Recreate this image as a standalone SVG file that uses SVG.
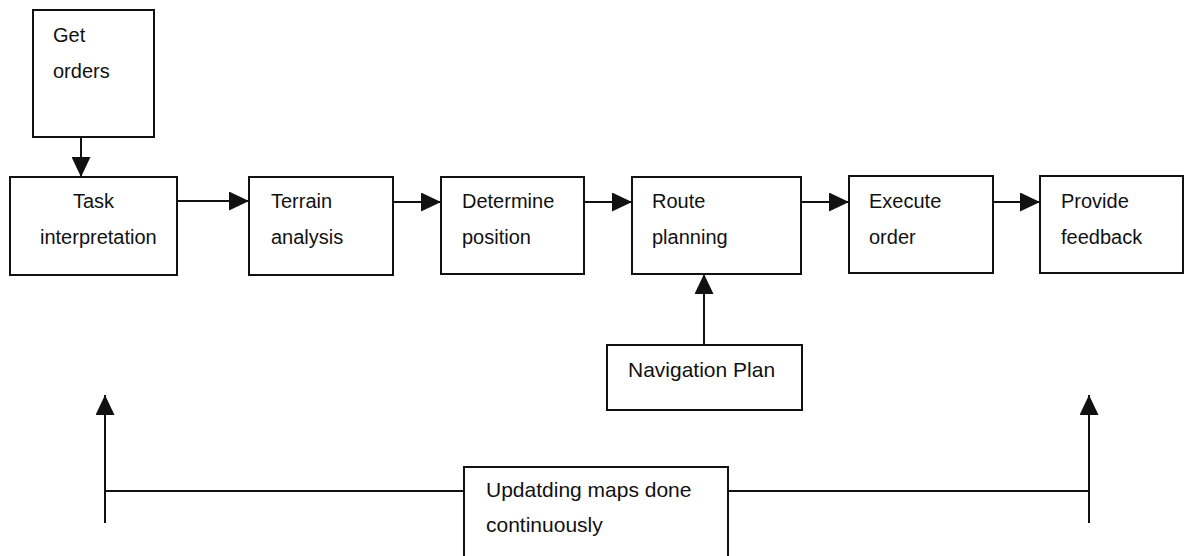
<svg xmlns="http://www.w3.org/2000/svg" width="1186" height="556" viewBox="0 0 1186 556">
  <style>
    .box { fill: #fff; stroke: #111; stroke-width: 2; }
    .lbl { font-family: "Liberation Sans", Arial, sans-serif; font-size: 20px; fill: #111; }
    .big { font-size: 21px; }
    .wire { fill: none; stroke: #111; stroke-width: 2; }
    .flow { marker-end: url(#head); }
  </style>
  <defs>
    <marker id="head" markerUnits="userSpaceOnUse" markerWidth="21" markerHeight="19" refX="20" refY="9.5" orient="auto">
      <path d="M0,0 L20,9.5 L0,19 Z" fill="#111"/>
    </marker>
  </defs>
  <rect width="1186" height="556" fill="#fff"/>

  <g id="connectors">
    <line class="wire flow" x1="81" y1="137" x2="81" y2="177"/>
    <line class="wire flow" x1="177" y1="201" x2="249" y2="201"/>
    <line class="wire flow" x1="393" y1="202" x2="441" y2="202"/>
    <line class="wire flow" x1="584" y1="202" x2="632" y2="202"/>
    <line class="wire flow" x1="801" y1="202" x2="849" y2="202"/>
    <line class="wire flow" x1="993" y1="202" x2="1040" y2="202"/>
    <line class="wire flow" x1="704" y1="345" x2="704" y2="274"/>
    <polyline class="wire" points="464,491 105,491"/>
    <polyline class="wire" points="728,491 1089,491"/>
    <line class="wire flow" x1="105" y1="523" x2="105" y2="395"/>
    <line class="wire flow" x1="1089" y1="523" x2="1089" y2="395"/>
  </g>

  <g id="get-orders">
    <rect class="box" x="33" y="10" width="121" height="127"/>
    <text class="lbl" x="53" y="42">Get</text>
    <text class="lbl" x="53" y="78">orders</text>
  </g>

  <g id="task-interpretation">
    <rect class="box" x="10" y="177" width="167" height="98"/>
    <text class="lbl" x="73" y="208">Task</text>
    <text class="lbl" x="40" y="244">interpretation</text>
  </g>

  <g id="terrain-analysis">
    <rect class="box" x="249" y="177" width="144" height="98"/>
    <text class="lbl" x="271" y="208">Terrain</text>
    <text class="lbl" x="271" y="244">analysis</text>
  </g>

  <g id="determine-position">
    <rect class="box" x="441" y="177" width="143" height="97"/>
    <text class="lbl" x="462" y="208">Determine</text>
    <text class="lbl" x="462" y="244">position</text>
  </g>

  <g id="route-planning">
    <rect class="box" x="632" y="177" width="169" height="97"/>
    <text class="lbl" x="652" y="208">Route</text>
    <text class="lbl" x="652" y="244">planning</text>
  </g>

  <g id="execute-order">
    <rect class="box" x="849" y="176" width="144" height="97"/>
    <text class="lbl" x="869" y="208">Execute</text>
    <text class="lbl" x="869" y="244">order</text>
  </g>

  <g id="provide-feedback">
    <rect class="box" x="1040" y="176" width="143" height="97"/>
    <text class="lbl" x="1061" y="208">Provide</text>
    <text class="lbl" x="1061" y="244">feedback</text>
  </g>

  <g id="navigation-plan">
    <rect class="box" x="607" y="345" width="195" height="65"/>
    <text class="lbl big" x="628" y="377">Navigation Plan</text>
  </g>

  <g id="updating-maps">
    <rect class="box" x="464" y="467" width="264" height="100"/>
    <text class="lbl big" x="486" y="497">Updatding maps done</text>
    <text class="lbl big" x="486" y="532">continuously</text>
  </g>
</svg>
